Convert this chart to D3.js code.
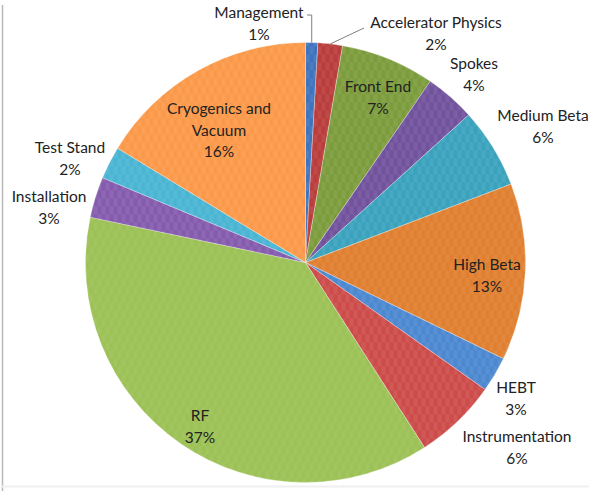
<!DOCTYPE html>
<html>
<head>
<meta charset="utf-8">
<script src="https://cdn.jsdelivr.net/npm/d3@7"></script>
<style>
  body { margin: 0; background: #fff; }
  text { font-family: Lato, "Open Sans", sans-serif; font-size: 15.5px; fill: #222; }
</style>
</head>
<body>
<div id="chart"></div>
<script>
// budget share by area, clockwise from 12 o'clock
var categories = ["Management", "Accelerator Physics", "Front End", "Spokes", "Medium Beta", "High Beta",
                  "HEBT", "Instrumentation", "RF", "Installation", "Test Stand", "Cryogenics and Vacuum"];
var shares = [0.9, 1.8, 6.9, 3.7, 5.9, 13.0, 2.6, 6.1, 37.4, 3.0, 2.4, 16.3];
var sliceColors = ["#3e73bd", "#b93d3b", "#7c9c3c", "#71529c", "#3aa2bd", "#e07f2f",
                   "#4c88d0", "#cc4c4a", "#9cc155", "#845bad", "#49b5d3", "#fb9949"];
// label lines as Excel wraps them
var labelLines = [["Management"], ["Accelerator Physics"], ["Front End"], ["Spokes"], ["Medium Beta"], ["High Beta"],
                  ["HEBT"], ["Instrumentation"], ["RF"], ["Installation"], ["Test Stand"], ["Cryogenics and", "Vacuum"]];

// layout (label centres, first line)
var labelAt = {
  "Management": [259, 12], "Accelerator Physics": [436, 22], "Front End": [378, 86], "Spokes": [474, 63],
  "Medium Beta": [543, 115], "High Beta": [487, 264], "HEBT": [516, 387], "Instrumentation": [517, 436],
  "RF": [200, 415], "Installation": [49, 196], "Test Stand": [70, 147], "Cryogenics and Vacuum": [219, 108]
};
const width = 589, height = 491;
const cx = 305.5, cy = 262.5, radius = 220;
const lineGap = 21.5;

const svg = d3.select("#chart").append("svg")
  .attr("width", width)
  .attr("height", height);

// chart area frame (left + faint bottom edge)
svg.append("line").attr("x1", 2.5).attr("x2", 2.5).attr("y1", 5).attr("y2", height)
  .attr("stroke", "#b8b8b8").attr("stroke-width", 1.5);
svg.append("line").attr("x1", 2).attr("x2", width).attr("y1", 486.5).attr("y2", 486.5)
  .attr("stroke", "#f0f0f0").attr("stroke-width", 2);

const total = d3.sum(shares);
const pie = d3.pie().sort(null).value(d => d);
const arcs = pie(shares);
const arc = d3.arc().innerRadius(0).outerRadius(radius);

// faint checker texture like the original
const defs = svg.append("defs");
const pat = defs.append("pattern").attr("id", "tex")
  .attr("width", 8).attr("height", 16).attr("patternUnits", "userSpaceOnUse");
pat.append("rect").attr("x", 0).attr("y", 0).attr("width", 4).attr("height", 8).attr("fill", "#fff").attr("opacity", 0.07);
pat.append("rect").attr("x", 4).attr("y", 8).attr("width", 4).attr("height", 8).attr("fill", "#fff").attr("opacity", 0.07);

const g = svg.append("g").attr("transform", "translate(" + cx + "," + cy + ")");

g.selectAll(".slice")
  .data(arcs).enter().append("path")
  .attr("class", "slice")
  .attr("d", arc)
  .attr("fill", (d, i) => sliceColors[i])
  .attr("stroke", "rgba(255,255,255,0.5)")
  .attr("stroke-width", 0.6);

g.selectAll(".tex")
  .data(arcs).enter().append("path")
  .attr("class", "tex")
  .attr("d", arc)
  .attr("fill", "url(#tex)");

// leader lines for the two thin slices at the top
function outerPoint(d) {
  const a = (d.startAngle + d.endAngle) / 2;
  return [cx + radius * Math.sin(a), cy - radius * Math.cos(a)];
}
const pMgmt = outerPoint(arcs[0]);
svg.append("polyline")
  .attr("points", [[307, 15], [pMgmt[0], 15], pMgmt].map(p => p.join(",")).join(" "))
  .attr("fill", "none").attr("stroke", "#7f7f7f").attr("stroke-width", 1);
const pAcc = outerPoint(arcs[1]);
svg.append("line")
  .attr("x1", pAcc[0]).attr("y1", pAcc[1]).attr("x2", 364).attr("y2", 28)
  .attr("stroke", "#7f7f7f").attr("stroke-width", 1);

// data labels: name + rounded percent
const fmt = d3.format(".0%");
categories.forEach(function(name, i) {
  const pos = labelAt[name];
  const lines = labelLines[i].concat([fmt(shares[i] / total)]);
  const t = svg.append("text")
    .attr("text-anchor", "middle")
    .attr("dominant-baseline", "central");
  lines.forEach(function(s, k) {
    t.append("tspan").attr("x", pos[0]).attr("y", pos[1] + k * lineGap).text(s);
  });
});
</script>
</body>
</html>
